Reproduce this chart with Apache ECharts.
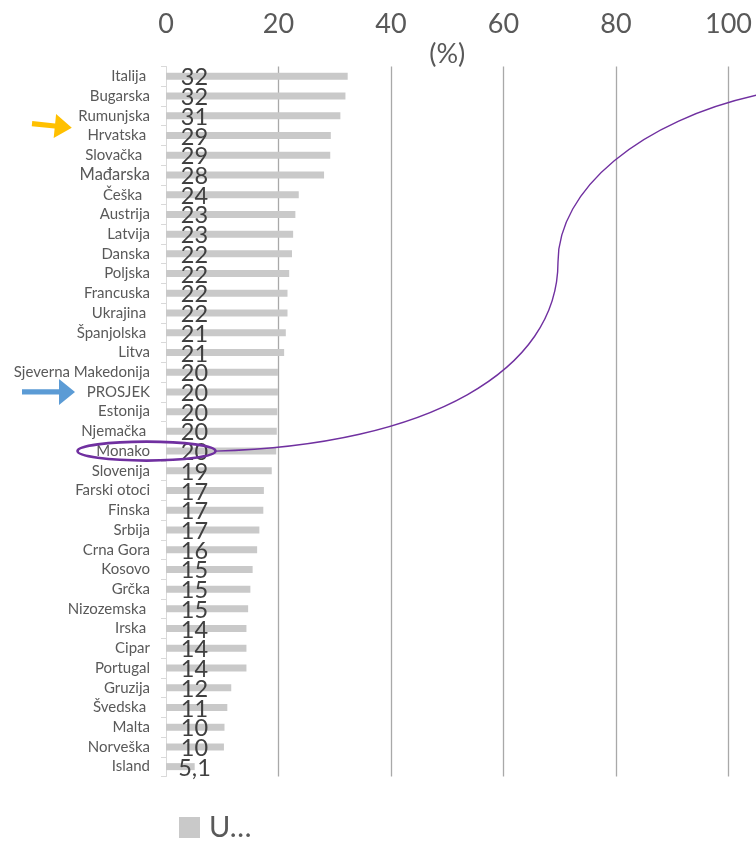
<!DOCTYPE html>
<html>
<head>
<meta charset="utf-8">
<script src="https://cdn.jsdelivr.net/npm/echarts@6/dist/echarts.min.js"></script>
<style>
html,body{margin:0;padding:0;background:#fff;}
#main{width:756px;height:841px;}
</style>
</head>
<body>
<div id="main"></div>
<script>
// ---- data ----
var categories = ["Italija ", "Bugarska", "Rumunjska", "Hrvatska ", "Slovačka  ", "Mađarska", "Češka  ", "Austrija", "Latvija", "Danska", "Poljska", "Francuska", "Ukrajina ", "Španjolska ", "Litva", "Sjeverna Makedonija", "PROSJEK", "Estonija", "Njemačka ", "Monako", "Slovenija", "Farski otoci", "Finska", "Srbija", "Crna Gora", "Kosovo", "Grčka", "Nizozemska ", "Irska ", "Cipar", "Portugal", "Gruzija", "Švedska ", "Malta", "Norveška", "Island"];
var values = [32.3, 31.9, 31.0, 29.3, 29.2, 28.1, 23.6, 23.0, 22.6, 22.4, 21.9, 21.6, 21.6, 21.3, 21.0, 19.9, 19.9, 19.8, 19.7, 19.6, 18.8, 17.4, 17.3, 16.6, 16.2, 15.4, 15.0, 14.6, 14.3, 14.3, 14.3, 11.6, 10.9, 10.4, 10.3, 5.1];
var valueLabels = ["32", "32", "31", "29", "29", "28", "24", "23", "23", "22", "22", "22", "22", "21", "21", "20", "20", "20", "20", "20", "19", "17", "17", "17", "16", "15", "15", "15", "14", "14", "14", "12", "11", "10", "10", "5,1"];
var xTicks = [0, 20, 40, 60, 80, 100];
var seriesName = "U…";
var axisName = "(%)";

var chart = echarts.init(document.getElementById('main'), null, {renderer: 'canvas'});
var FONT = 'Lato, "Open Sans", sans-serif';

var option = {
  animation: false,
  backgroundColor: '#ffffff',
  grid: {left: 166, right: 27.5, top: 66.5, bottom: 64.5, containLabel: false, outerBoundsMode: 'none'},
  xAxis: {
    type: 'value',
    position: 'top',
    min: xTicks[0],
    max: xTicks[xTicks.length - 1],
    interval: xTicks[1] - xTicks[0],
    name: axisName,
    nameLocation: 'middle',
    nameGap: 12,
    nameMoveOverlap: false,
    nameTextStyle: {fontFamily: FONT, fontSize: 27, color: '#595959', verticalAlign: 'middle'},
    axisLine: {show: false},
    axisTick: {show: false},
    axisLabel: {fontFamily: FONT, fontSize: 27, color: '#595959', margin: 29},
    splitLine: {show: true, showMinLine: false, lineStyle: {color: '#a9a9a9', width: 1.3}}
  },
  yAxis: {
    type: 'category',
    inverse: true,
    data: categories,
    axisLine: {show: true, lineStyle: {color: '#d9d9d9', width: 1}},
    axisTick: {show: true, length: 5, lineStyle: {color: '#d9d9d9'}},
    axisLabel: {
      fontFamily: FONT, fontSize: 15, color: '#595959', margin: 16,
      formatter: function (v) { return v === 'Mađarska' ? '{big|' + v + '}' : v; },
      rich: {big: {fontFamily: FONT, fontSize: 16.5, color: '#595959'}}
    }
  },
  legend: {
    show: true,
    left: 174,
    top: 808,
    itemWidth: 21,
    itemHeight: 21,
    icon: 'rect',
    textStyle: {fontFamily: FONT, fontSize: 29, color: '#595959', padding: [0, 0, 0, 4]},
    data: [seriesName]
  },
  series: [{
    name: seriesName,
    type: 'bar',
    data: values,
    barWidth: 7,
    itemStyle: {color: '#c9c9c9'},
    label: {
      show: true,
      position: [28.5, 5],
      align: 'center',
      verticalAlign: 'middle',
      fontFamily: FONT,
      fontSize: 23.5,
      color: '#404040',
      formatter: function (p) { return valueLabels[p.dataIndex]; }
    },
    z: 2
  }]
};
chart.setOption(option);

// annotations placed relative to rows
var yMonako = chart.convertToPixel({yAxisIndex: 0}, 'Monako');
var yProsjek = chart.convertToPixel({yAxisIndex: 0}, 'PROSJEK');
var yRum = chart.convertToPixel({yAxisIndex: 0}, 'Rumunjska');
var yHrv = chart.convertToPixel({yAxisIndex: 0}, 'Hrvatska ');

function arrowPoints(L, hl, hw, sw) {
  return [[0, -sw], [L - hl, -sw], [L - hl, -hw], [L, 0], [L - hl, hw], [L - hl, sw], [0, sw]];
}

var yTipYellow = (yRum + yHrv) / 2 + 2;
chart.setOption({
  graphic: [
    {
      type: 'polygon',
      x: 32, y: yTipYellow - 4,
      rotation: -0.1,
      shape: {points: arrowPoints(40, 17, 12, 2.6)},
      style: {fill: '#FFC000'},
      z: 10
    },
    {
      type: 'polygon',
      x: 22, y: yProsjek,
      shape: {points: arrowPoints(53, 16, 13, 2.6)},
      style: {fill: '#5B9BD5'},
      z: 10
    },
    {
      type: 'ellipse',
      shape: {cx: 146.5, cy: yMonako, rx: 69, ry: 9.5},
      style: {fill: 'none', stroke: '#7030A0', lineWidth: 2.6},
      z: 10
    },
    {
      type: 'bezierCurve',
      shape: {x1: 215.5, y1: yMonako, cpx1: 430, cpy1: yMonako - 6, cpx2: 558, cpy2: 370, x2: 558, y2: 262},
      style: {fill: 'none', stroke: '#7030A0', lineWidth: 1.4},
      z: 10
    },
    {
      type: 'bezierCurve',
      shape: {x1: 558, y1: 262, cpx1: 558, cpy1: 190, cpx2: 640, cpy2: 120, x2: 762, y2: 94},
      style: {fill: 'none', stroke: '#7030A0', lineWidth: 1.4},
      z: 10
    }
  ]
});
</script>
</body>
</html>
